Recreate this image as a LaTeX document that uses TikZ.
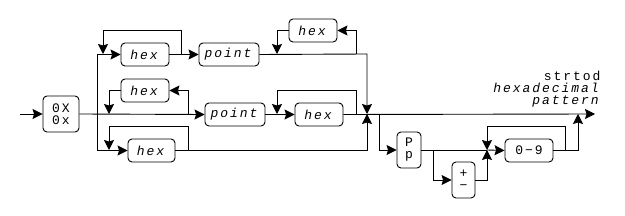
\documentclass[tikz,border=0pt]{standalone}
\usepackage{fontspec}
\setmonofont{Liberation Mono}[LetterSpace=15]
\usetikzlibrary{arrows.meta}
\tikzset{
  txt/.style={font=\ttfamily\fontsize{13}{12}\selectfont},
  rr/.style={draw, rounded corners=4pt, inner sep=0pt, txt, align=center},
  ln/.style={line width=0.9pt},
  ar/.style={ln, -{Stealth[length=10pt,width=10pt,inset=1.5pt]}},
}
\begin{document}
\begin{tikzpicture}[x=1pt,y=-1pt]
\useasboundingbox (0,0) rectangle (625,216);
\tikzset{every path/.append style={line width=0.9pt}}
% nodes
\node[rr, minimum width=36pt, minimum height=36pt] (n0x) at (61,114) {0X\\0x};
\node[rr, minimum width=48pt, minimum height=23pt] (hexA) at (145,54.5) {\textit{hex}};
\node[rr, minimum width=60pt, minimum height=23pt] (pointA) at (229,54.5) {\textit{point}};
\node[rr, minimum width=48pt, minimum height=23pt] (hexB) at (313,30.5) {\textit{hex}};
\node[rr, minimum width=48pt, minimum height=23pt] (hexC) at (145,90.5) {\textit{hex}};
\node[rr, minimum width=60pt, minimum height=23pt] (pointB) at (235,114.5) {\textit{point}};
\node[rr, minimum width=48pt, minimum height=23pt] (hexD) at (319,114.5) {\textit{hex}};
\node[rr, minimum width=47pt, minimum height=23pt] (hexE) at (151.5,150.5) {\textit{hex}};
\node[rr, minimum width=24pt, minimum height=36pt] (Pp) at (409,150) {P\\p};
\node[rr, minimum width=23pt, minimum height=36pt] (pm) at (463.5,180) {+\\−};
\node[rr, minimum width=48pt, minimum height=23pt] (d09) at (529,150.5) {0−9};
\node[txt, anchor=base east, inner sep=0pt] (lbl1) at (601,81) {strtod};
\node[txt, anchor=base east, inner sep=0pt] (lbl2) at (601,93) {\textit{hexadecimal}};
\node[txt, anchor=base east, inner sep=0pt] (lbl3) at (601,105) {\textit{pattern}};
% coordinates
\coordinate (start) at (20,114);
\coordinate (jL) at (97,114);
\coordinate (jR) at (367,114);
\coordinate (endp) at (595,114);
\coordinate (jP) at (487,150);
% entry and main line
\draw[ar] (start) -- (n0x.west);
\draw[ar] (n0x.east) -- (pointB.west);
\draw[ar] (pointB.east) -- (hexD.west);
\draw[ar] (hexD.east) -- (endp);
% row 1
\draw[ar] (jL) |- (hexA.west);
\draw[ar] (181,54) |- (103,30) -- (103,54);
\draw[ar] (hexA.east) -- (pointA.west);
\draw[ar] (pointA.east) -- (367,54) -- (jR);
\draw[ar] (356,54) |- (hexB.east);
\draw[ar] (hexB.west) -| (277,54);
% row 2
\draw[ar] (188,114) |- (hexC.east);
\draw[ar] (hexC.west) -| (109,114);
\draw[ar] (356,114) |- (277,90) -- (277,114);
% row 3
\draw[ar] (jL) |- (hexE.west);
\draw[ar] (188,150) |- (109,126) -- (109,150);
\draw[ar] (hexE.east) -| (jR);
% exponent part
\draw[ar] (379,114) |- (Pp.west);
\draw[ln] (Pp.east) -- (jP);
\draw[ar] (433,150) |- (pm.west);
\draw[ar] (pm.east) -| (jP);
\draw[ar] (jP) -- (d09.west);
\draw[ar] (565,150) |- (487,126) -- (jP);
\draw[ar] (d09.east) -| (578,114);
\end{tikzpicture}
\end{document}
